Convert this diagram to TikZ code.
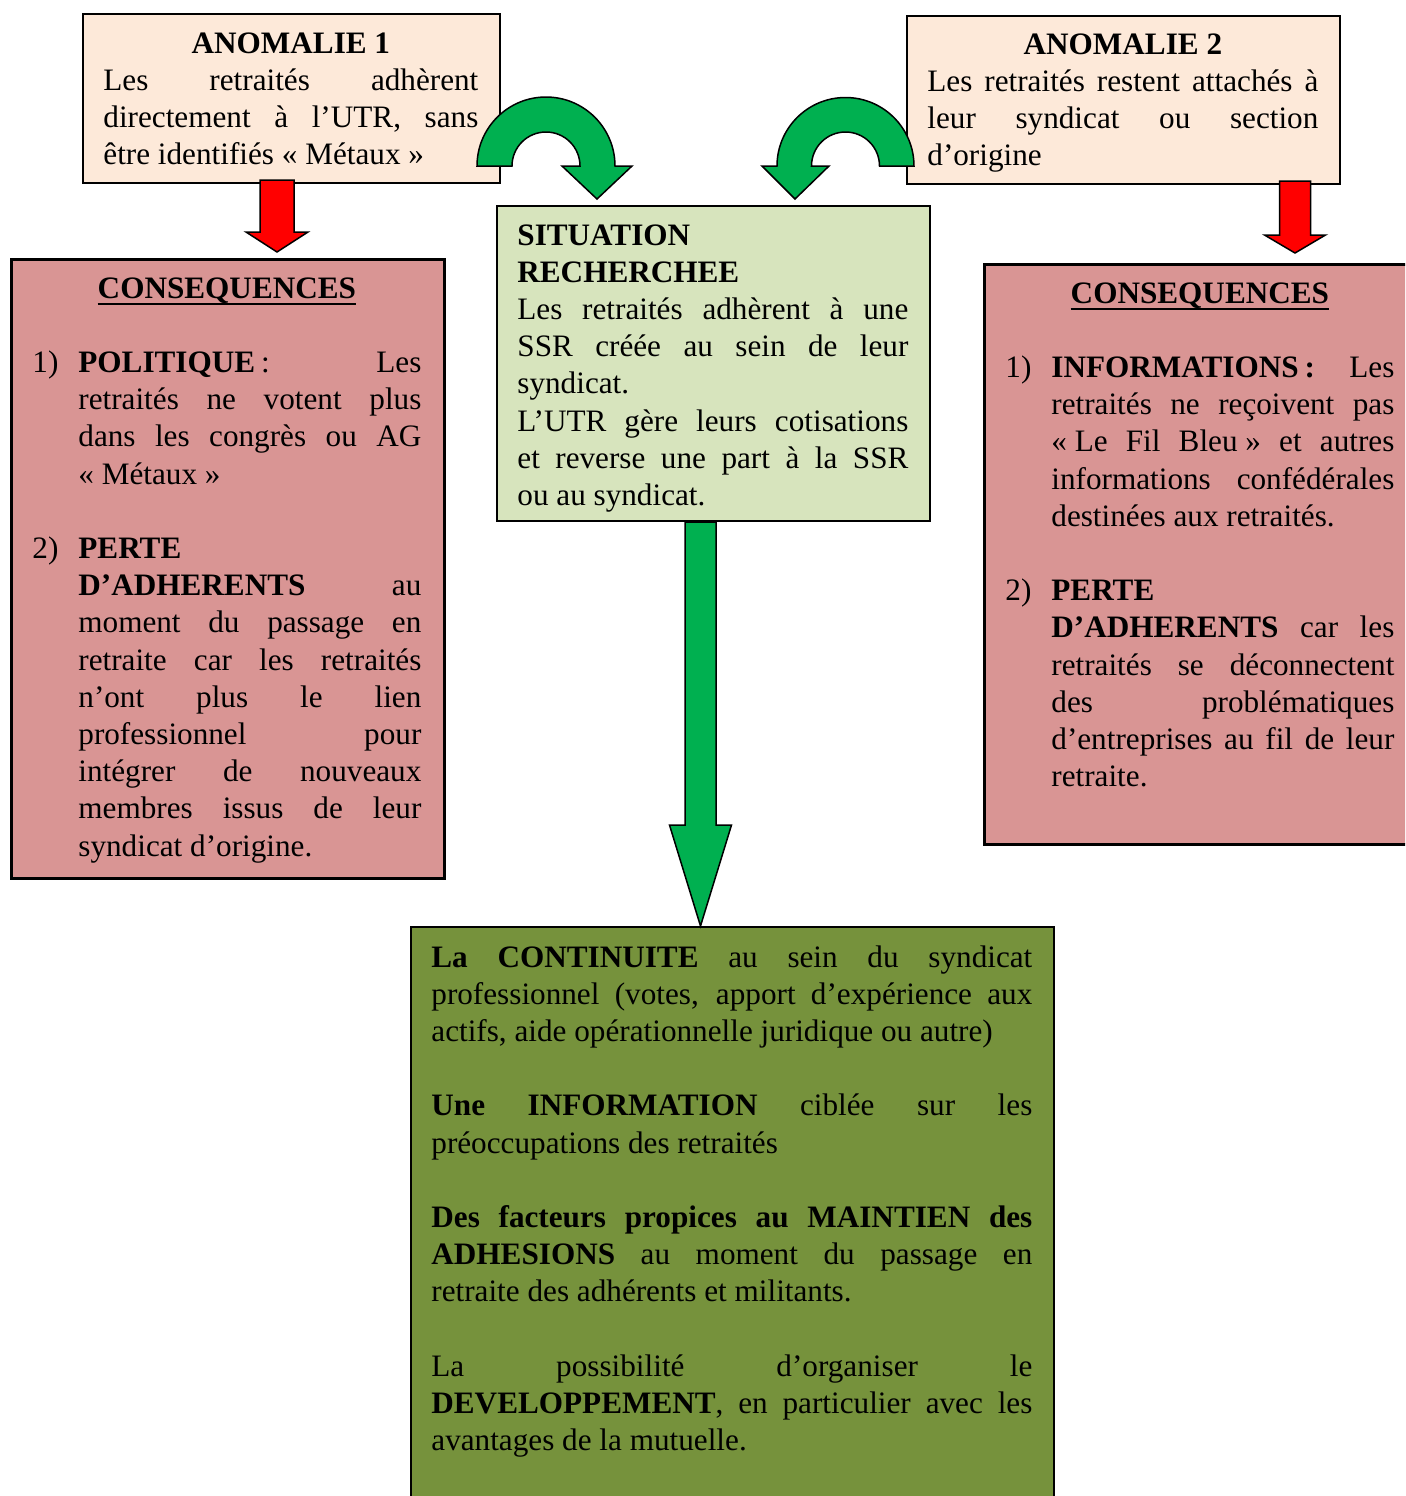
\documentclass[tikz,border=0pt]{standalone}
\usepackage{fontspec}
\setmainfont{Liberation Serif}
\usepackage{tikz}
\usetikzlibrary{calc}

\definecolor{anomfill}{HTML}{FDE9D9}
\definecolor{sitfill}{HTML}{D7E4BD}
\definecolor{consfill}{HTML}{D99594}
\definecolor{resfill}{HTML}{76923C}
\definecolor{arrgreen}{HTML}{00B050}
\definecolor{arrred}{HTML}{FF0000}

\tolerance=10000
\hbadness=10000
\hyphenpenalty=10000

%% block arrow pointing down : style, top, tip, shaft half width, head half width, head length
\newcommand{\downblock}[6]{%
  \filldraw[#1] ($(#2)+(-#4,0)$) -- ($(#3)+(-#4,-#6)$) -- ($(#3)+(-#5,-#6)$) -- (#3)
     -- ($(#3)+(#5,-#6)$) -- ($(#3)+(#4,-#6)$) -- ($(#2)+(#4,0)$) -- cycle;}
\newcommand{\consul}[1]{\setbox0\hbox{#1}\rlap{\rule[-3.6pt]{\wd0}{1pt}}\box0}
\newcommand{\gsp}{\kern.25em}
\newcommand{\brk}{\hfil\break}
\newcommand{\numlab}[1]{\hangindent=23pt\hangafter=1\noindent\hbox to 23pt{#1\hfil}}

\tikzset{
  box/.style={draw, line width=1pt, anchor=north west, inner sep=0pt},
  boxtext/.style={anchor=base west, inner sep=0pt, text width=#1, align=justify,
    font=\fontsize{15.6}{18.6}\selectfont},
  redarrow/.style={fill=arrred, draw=black, line width=0.75pt, line join=miter},
  greenarrow/.style={fill=arrgreen, draw=black, line width=0.75pt, line join=miter}
}

\begin{document}
\begin{tikzpicture}[x=0.5pt, y=-0.5pt]

%% page frame
\useasboundingbox (0,0) rectangle (1405,1496);
\clip (0,0) rectangle (1405,1496);

%% ***boxes***
\node[box, fill=anomfill, minimum width=208.5pt, minimum height=84.5pt] (anom1) at (82,13) {};
\node[box, fill=anomfill, minimum width=216.5pt, minimum height=84pt] (anom2) at (906,15) {};
\node[box, fill=sitfill, minimum width=216.5pt, minimum height=157.5pt] (sit) at (496,205) {};
\node[box, fill=consfill, line width=1.3pt, minimum width=216.5pt, minimum height=309.5pt] (cons1) at (10,258) {};
\node[box, fill=consfill, line width=1.3pt, minimum width=216.5pt, minimum height=290pt] (cons2) at (983,263) {};
\node[box, fill=resfill, minimum width=321.5pt, minimum height=300pt] (res) at (410,926) {};

%% ***texts***
\node[boxtext=187.5pt] (anom1txt) at ($(anom1.north west)+(21,40)$) {%
  {\centering\textbf{ANOMALIE 1}\par}
  Les retraités adhèrent\linebreak directement à l’UTR, sans\linebreak
  être identifiés «\gsp Métaux\gsp»\par};

\node[boxtext=195.5pt] (anom2txt) at ($(anom2.north west)+(21,39)$) {%
  {\centering\textbf{ANOMALIE 2}\par}
  Les retraités restent attachés à\linebreak leur syndicat ou section\linebreak
  d’origine\par};

\node[boxtext=195.5pt] (sittxt) at ($(sit.north west)+(21,40)$) {%
  \textbf{SITUATION}\brk\textbf{RECHERCHEE}\brk
  Les retraités adhèrent à une\linebreak SSR créée au sein de leur\linebreak syndicat.\par
  L’UTR gère leurs cotisations\linebreak et reverse une part à la SSR\linebreak
  ou au syndicat.\par};

\node[boxtext=194.5pt] (cons1txt) at ($(cons1.north west)+(22,40)$) {%
  {\centering\consul{\textbf{CONSEQUENCES}}\par}
  \mbox{}\par
  \numlab{1)}\textbf{POLITIQUE}\kern3pt: Les\linebreak retraités ne votent plus\linebreak
  dans les congrès ou AG\linebreak «\gsp Métaux\gsp»\par
  \mbox{}\par
  \numlab{2)}\textbf{PERTE}\brk\textbf{D’ADHERENTS} au\linebreak
  moment du passage en\linebreak retraite car les retraités\linebreak
  n’ont plus le lien\linebreak professionnel pour\linebreak
  intégrer de nouveaux\linebreak membres issus de leur\linebreak
  syndicat d’origine.\par};

\node[boxtext=194.5pt] (cons2txt) at ($(cons2.north west)+(22,40)$) {%
  {\centering\consul{\textbf{CONSEQUENCES}}\par}
  \mbox{}\par
  \numlab{1)}\textbf{INFORMATIONS\kern3pt:} Les\linebreak retraités ne reçoivent pas\linebreak
  «\gsp Le Fil Bleu\gsp» et autres\linebreak informations confédérales\linebreak
  destinées aux retraités.\par
  \mbox{}\par
  \numlab{2)}\textbf{PERTE}\brk\textbf{D’ADHERENTS} car les\linebreak
  retraités se déconnectent\linebreak des problématiques\linebreak
  d’entreprises au fil de leur\linebreak retraite.\par};

\node[boxtext=300.5pt] (restxt) at ($(res.north west)+(21,41)$) {%
  \textbf{La CONTINUITE} au sein du syndicat\linebreak
  professionnel (votes, apport d’expérience aux\linebreak
  actifs, aide opérationnelle juridique ou autre)\par
  \mbox{}\par
  \textbf{Une INFORMATION} ciblée sur les\linebreak préoccupations des retraités\par
  \mbox{}\par
  \textbf{Des facteurs propices au MAINTIEN des}\linebreak
  \textbf{ADHESIONS} au moment du passage en\linebreak
  retraite des adhérents et militants.\par
  \mbox{}\par
  La possibilité d’organiser le\linebreak
  \textbf{DEVELOPPEMENT}, en particulier avec les\linebreak
  avantages de la mutuelle.\par};

%% ***straight arrows***
\coordinate (r1top) at ($(anom1.south west)+(195,-4)$);
\coordinate (r1tip) at ($(cons1.north west)+(267,-6)$);
\downblock{redarrow}{r1top}{r1tip}{17}{31}{20}

\coordinate (r2top) at ($(anom2.south west)+(389,-4)$);
\coordinate (r2tip) at ($(cons2.north west)+(312,-10)$);
\downblock{redarrow}{r2top}{r2tip}{15.5}{30.5}{18}

\coordinate (gtop) at ($(sit.south west)+(204.5,0)$);
\coordinate (gtip) at ($(res.north west)+(290.5,0)$);
\downblock{greenarrow}{gtop}{gtip}{15.5}{31}{101}

%% ***curved arrows towards the situation box***
\coordinate (c1) at ($(anom1.south east)+(45,-18)$);
\filldraw[greenarrow] ($(c1)+(-69,0)$) arc[start angle=180, end angle=0, radius=34.5pt]
  -- ++(17,0) -- ($(c1)+(51,33)$) -- ($(c1)+(16,0)$) -- ($(c1)+(34,0)$)
  arc[start angle=0, end angle=180, radius=17pt] -- cycle;

\coordinate (c2) at ($(anom2.south west)+(-60.5,-19)$);
\filldraw[greenarrow] ($(c2)+(68.5,0)$) arc[start angle=0, end angle=180, radius=34.25pt]
  -- ++(-15,0) -- ($(c2)+(-50.5,33)$) -- ($(c2)+(-16.5,0)$) -- ($(c2)+(-34,0)$)
  arc[start angle=180, end angle=0, radius=17pt] -- cycle;

\end{tikzpicture}
\end{document}
